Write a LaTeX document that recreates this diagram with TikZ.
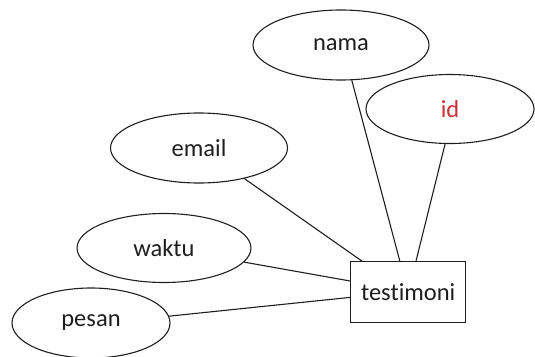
\documentclass[tikz,border=0pt]{standalone}
\usepackage{fontspec}
\setmainfont{Carlito}[Ligatures={NoCommon,NoRare,NoDiscretionary}]
\usetikzlibrary{shapes.geometric}
\definecolor{inkc}{RGB}{30,30,30}
\definecolor{keyred}{RGB}{205,45,50}
\begin{document}
\begin{tikzpicture}[x=1pt,y=-1pt,
  attr/.style={ellipse, draw=inkc, line width=1.1pt, inner sep=0pt, text=inkc,
    font=\fontsize{24.5}{29}\selectfont},
  entity/.style={rectangle, draw=inkc, line width=1.1pt, inner sep=0pt, text=inkc,
    minimum width=115pt, minimum height=61pt, font=\fontsize{24.5}{29}\selectfont},
  link/.style={draw=inkc, line width=1.1pt}]
\useasboundingbox (0,0) rectangle (535,356);
\clip (0,0) rectangle (535,356);
\node[attr, minimum width=176pt, minimum height=70pt] (nama) at (341,45) {nama};
\node[attr, minimum width=168pt, minimum height=69pt, text=keyred] (id) at (450,109) {id};
\node[attr, minimum width=177pt, minimum height=70pt] (email) at (199,148) {email};
\node[attr, minimum width=174pt, minimum height=69pt] (waktu) at (164,248) {waktu};
\node[attr, minimum width=158pt, minimum height=70pt] (pesan) at (91,323) {pesan};
\node[entity] (testimoni) at (408.2,292.3) {testimoni};
\draw[link] (nama.-73) -- (testimoni.105);
\draw[link] (id.-98) -- (testimoni.76);
\draw[link] (email.-34) -- (testimoni.146);
\draw[link] (waktu.-10) -- (testimoni.169.6);
\draw[link] (pesan.5) -- (testimoni.185.6);
\end{tikzpicture}
\end{document}
